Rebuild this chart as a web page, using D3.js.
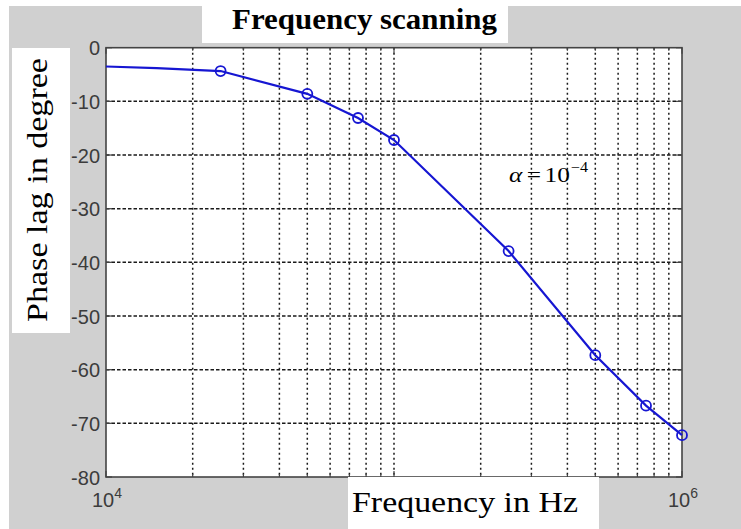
<!DOCTYPE html>
<html>
<head>
<meta charset="utf-8">
<script src="https://cdn.jsdelivr.net/npm/d3@7"></script>
<style>
  body { margin: 0; background: #fff; }
  svg { display: block; }
  .tick-lbl { font-family: "Liberation Sans", Arial, sans-serif; font-size: 20px; fill: #3c3c3c; }
  .serif { font-family: "Liberation Serif", "Times New Roman", serif; fill: #000; }
</style>
</head>
<body>
<div id="chart"></div>
<script>
// line values (Hz, degrees)
const lineFreq  = [1e4, 1.5e4, 2.5e4, 5e4, 7.5e4, 1e5, 2.5e5, 5e5, 7.5e5, 1e6]
const linePhase = [-3.5, -3.8, -4.35, -8.6, -13.1, -17.2, -37.9, -57.3, -66.7, -72.2]
// circled sample points
const markFreq  = [2.5e4, 5e4, 7.5e4, 1e5, 2.5e5, 5e5, 7.5e5, 1e6]
const markPhase = [-4.35, -8.6, -13.1, -17.2, -37.9, -57.3, -66.7, -72.2]
const yTicks = [0, -10, -20, -30, -40, -50, -60, -70, -80]
const xLabelExp = [4, 6]

const W = 741, H = 529
const PLOT = { left: 106, right: 682, top: 47.7, bottom: 477 }
const BLUE = '#1616d2'

const svg = d3.select('#chart').append('svg').attr('width', W).attr('height', H)

// figure background
svg.append('rect').attr('x', 9).attr('y', 6).attr('width', W - 9).attr('height', H - 6).attr('fill', '#d0d0d0')

const x = d3.scaleLog().domain([1e4, 1e6]).range([PLOT.left, PLOT.right])
const y = d3.scaleLinear().domain([-80, 0]).range([PLOT.bottom, PLOT.top])

svg.append('rect')
  .attr('x', PLOT.left).attr('y', PLOT.top)
  .attr('width', PLOT.right - PLOT.left).attr('height', PLOT.bottom - PLOT.top)
  .attr('fill', '#fff')

// ── grid ───────────────────────────────────────────────────────
const xGrid = x.ticks().filter(v => v > 1e4 && v < 1e6)
svg.append('g').selectAll('line').data(xGrid).join('line')
  .attr('x1', d => x(d)).attr('x2', d => x(d))
  .attr('y1', PLOT.top).attr('y2', PLOT.bottom)
  .attr('stroke', '#1a1a1a').attr('stroke-width', 1.5).attr('stroke-dasharray', '2 3')

svg.append('g').selectAll('line').data(yTicks.filter(v => v > -80 && v < 0)).join('line')
  .attr('x1', PLOT.left).attr('x2', PLOT.right)
  .attr('y1', d => y(d)).attr('y2', d => y(d))
  .attr('stroke', '#1a1a1a').attr('stroke-width', 1.5).attr('stroke-dasharray', '3.5 2')

// ── inner ticks ────────────────────────────────────────────────
const tk = svg.append('g').attr('stroke', '#444').attr('stroke-width', 1.2)
yTicks.forEach(v => {
  tk.append('line').attr('x1', PLOT.left).attr('x2', PLOT.left + 6).attr('y1', y(v)).attr('y2', y(v))
  tk.append('line').attr('x1', PLOT.right).attr('x2', PLOT.right - 6).attr('y1', y(v)).attr('y2', y(v))
})
x.ticks().forEach(v => {
  const len = Math.abs(Math.log10(v) % 1) < 1e-9 ? 6 : 3
  tk.append('line').attr('x1', x(v)).attr('x2', x(v)).attr('y1', PLOT.bottom).attr('y2', PLOT.bottom - len)
  tk.append('line').attr('x1', x(v)).attr('x2', x(v)).attr('y1', PLOT.top).attr('y2', PLOT.top + len)
})

// frame
svg.append('rect')
  .attr('x', PLOT.left).attr('y', PLOT.top)
  .attr('width', PLOT.right - PLOT.left).attr('height', PLOT.bottom - PLOT.top)
  .attr('fill', 'none').attr('stroke', '#444').attr('stroke-width', 1.6)

// ── tick labels ────────────────────────────────────────────────
svg.append('g').selectAll('text').data(yTicks).join('text')
  .attr('class', 'tick-lbl')
  .attr('x', PLOT.left - 6).attr('y', d => y(d) + 7.5)
  .attr('text-anchor', 'end')
  .text(d => d)

const xl = svg.append('g').selectAll('text').data(xLabelExp).join('text')
  .attr('class', 'tick-lbl')
  .attr('x', d => x(Math.pow(10, d)) - 14).attr('y', 507)
xl.append('tspan').text('10')
xl.append('tspan').attr('dx', 0).attr('dy', -9).style('font-size', '14px').text(d => d)

// ── data ───────────────────────────────────────────────────────
const pts = lineFreq.map((f, i) => [f, linePhase[i]])
svg.append('path').datum(pts)
  .attr('d', d3.line().x(d => x(d[0])).y(d => y(d[1])))
  .attr('fill', 'none').attr('stroke', BLUE).attr('stroke-width', 2.2)

svg.append('g').selectAll('circle').data(markFreq.map((f, i) => [f, markPhase[i]])).join('circle')
  .attr('cx', d => x(d[0])).attr('cy', d => y(d[1])).attr('r', 5)
  .attr('fill', 'none').attr('stroke', BLUE).attr('stroke-width', 1.8)

// annotation
const ann = svg.append('g').attr('transform', 'translate(509,182) scale(1.15,1)')
  .append('text').attr('class', 'serif').style('font-size', '22px').attr('fill', '#111')
ann.append('tspan').style('font-style', 'italic').text('α')
ann.append('tspan').attr('dx', 4).text('=')
ann.append('tspan').attr('dx', 3).text('10')
ann.append('tspan').attr('dx', 1).attr('dy', -10).style('font-size', '14px').text('−4')

// ── white label boxes ─────────────────────────────────────────
svg.append('rect').attr('x', 202).attr('y', 0).attr('width', 306).attr('height', 43).attr('fill', '#fff')
svg.append('text').attr('class', 'serif').attr('x', 232).attr('y', 29)
  .style('font-size', '30px').style('font-weight', 'bold')
  .attr('textLength', 265).attr('lengthAdjust', 'spacingAndGlyphs')
  .text('Frequency scanning')

svg.append('rect').attr('x', 12).attr('y', 48).attr('width', 58).attr('height', 285).attr('fill', '#fff')
svg.append('text').attr('class', 'serif').attr('transform', 'translate(47,322) rotate(-90)')
  .style('font-size', '29px')
  .attr('textLength', 264).attr('lengthAdjust', 'spacingAndGlyphs')
  .text('Phase lag in degree')

svg.append('rect').attr('x', 348).attr('y', 477).attr('width', 251).attr('height', 52).attr('fill', '#fff')
svg.append('text').attr('class', 'serif').attr('x', 352).attr('y', 512)
  .style('font-size', '30px')
  .attr('textLength', 226).attr('lengthAdjust', 'spacingAndGlyphs')
  .text('Frequency in Hz')
</script>
</body>
</html>
